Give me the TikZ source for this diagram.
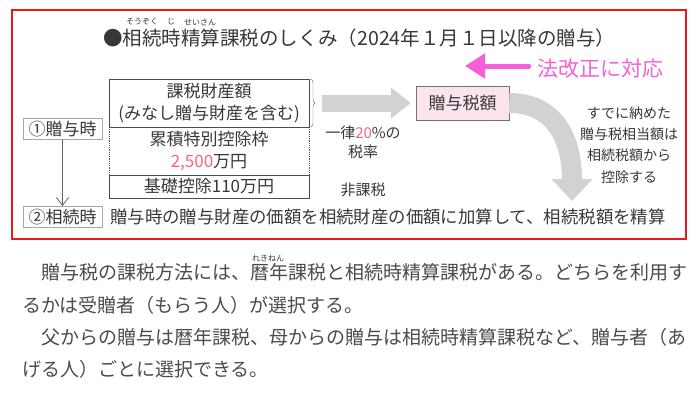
\documentclass[tikz,border=0pt]{standalone}
\usepackage{fontspec}
\setmainfont{Noto Sans CJK JP}
\usepackage{xcolor}
\usetikzlibrary{positioning, arrows.meta, decorations.pathreplacing}

\definecolor{framered}{RGB}{235,25,25}
\definecolor{ink}{RGB}{55,55,55}
\definecolor{hot}{RGB}{240,105,125}
\definecolor{kaiseipink}{RGB}{245,95,215}
\definecolor{zoyofill}{RGB}{251,228,238}

\begin{document}
\begin{tikzpicture}[x=1pt, y=-1pt, node distance=0pt, text=ink,
    box/.style={draw=ink!90, line width=1pt, outer sep=0pt, minimum width=200pt, inner sep=0pt, align=center, font=\fontsize{17}{22}\selectfont},
    tag/.style={draw=gray!70, line width=0.8pt, minimum width=79pt, minimum height=21pt, inner sep=0pt, font=\fontsize{17}{17}\selectfont},
    note/.style={inner sep=0pt, align=center, font=\fontsize{15}{19}\selectfont},
    body/.style={anchor=west, inner sep=0pt, font=\fontsize{19}{19}\selectfont, text=ink!90},
    ruby/.style={inner sep=0pt, font=\fontsize{8}{8}\selectfont},
    bigarrow/.style={draw=gray!35, line width=17pt}]

    \useasboundingbox (0,0) rectangle (700,412);

    % red frame
    \draw[framered, line width=2.5pt] (12,10) rectangle (686,239);

    % title with ruby
    \node[anchor=west, inner sep=0pt, font=\fontsize{19.5}{19.5}\selectfont] (title) at (103,38) {●相続時精算課税のしくみ（2024年１月１日以降の贈与）};
    \node[ruby] (r1) at (142,22) {そうぞく};
    \node[ruby] (r2) at (171,22) {じ};
    \node[ruby] (r3) at (200,22) {せいさん};

    \node[text=kaiseipink, inner sep=0pt, font=\fontsize{21}{21}\selectfont] (kaisei) at (600,69) {法改正に対応};
    \coordinate (kaiseitip) at (465,66);
    \draw[kaiseipink, line width=5pt, line cap=round, -{Triangle[length=20pt,width=24pt]}] ([xshift=-8pt]kaisei.west |- kaiseitip) -- (kaiseitip);

    % stacked boxes
    \node[box, minimum height=48pt] (taxable) at (209,103) {課税財産額\\(みなし贈与財産を含む)};
    \node[box, draw=none, minimum height=48pt, below=of taxable] (special) {累積特別控除枠\\\textcolor{hot}{2,500}万円};
    \node[box, minimum height=23pt, below=of special] (basic) {基礎控除110万円};
    \draw[ink!85, densely dotted, line width=0.8pt] (special.north west) -- (special.south west);
    \draw[ink!85, densely dotted, line width=0.8pt] (special.north east) -- (special.south east);

    \node[tag] (gift) at (62.5,129) {①贈与時};
    \node[tag] (inherit) at (62.5,217) {②相続時};
    \draw[gray!60!ink, line width=0.8pt, -{Straight Barb[length=8pt,width=12pt]}] (gift) -- (inherit);
    \node[anchor=west, inner sep=0pt, font=\fontsize{17.4}{17.4}\selectfont] (settle) at (110,217) {贈与時の贈与財産の価額を相続財産の価額に加算して、相続税額を精算};

    \node[draw=gray!80!ink, fill=zoyofill, minimum width=93pt, minimum height=34pt, inner sep=0pt, font=\fontsize{17}{17}\selectfont] (zoyo) at (462.5,103) {贈与税額};

    \draw[ink!70, decorate, decoration={brace, amplitude=4pt}] ([xshift=2pt]taxable.north east) -- ([xshift=2pt]taxable.south east);
    \draw[bigarrow, -{Triangle[length=20pt,width=30pt]}] ([xshift=13pt]taxable.east) -- ([xshift=-5pt]zoyo.west);

    \node[note] (rate) at (363,142) {一律\textcolor{hot}{20}\%の\\税率};
    \node[note] (exempt) at (363,190) {非課税};

    \coordinate (curvetip) at (572,201);
    \draw[bigarrow, line width=20pt, -{Triangle[length=22pt,width=40pt]}] (zoyo.east) .. controls (552,103) and (572,135) .. (curvetip);
    \node[note, font=\fontsize{14}{21.3}\selectfont] (credit) at (629,145) {すでに納めた\\贈与税相当額は\\相続税額から\\控除する};

    % text below
    \node[body] (p1) at (22,272) {　贈与税の課税方法には、暦年課税と相続時精算課税がある。どちらを利用す};
    \node[ruby] (r4) at (268,258) {れきねん};
    \node[body] (p2) at (22,305) {るかは受贈者（もらう人）が選択する。};
    \node[body] (p3) at (22,337) {　父からの贈与は暦年課税、母からの贈与は相続時精算課税など、贈与者（あ};
    \node[body] (p4) at (22,369) {げる人）ごとに選択できる。};
\end{tikzpicture}
\end{document}
